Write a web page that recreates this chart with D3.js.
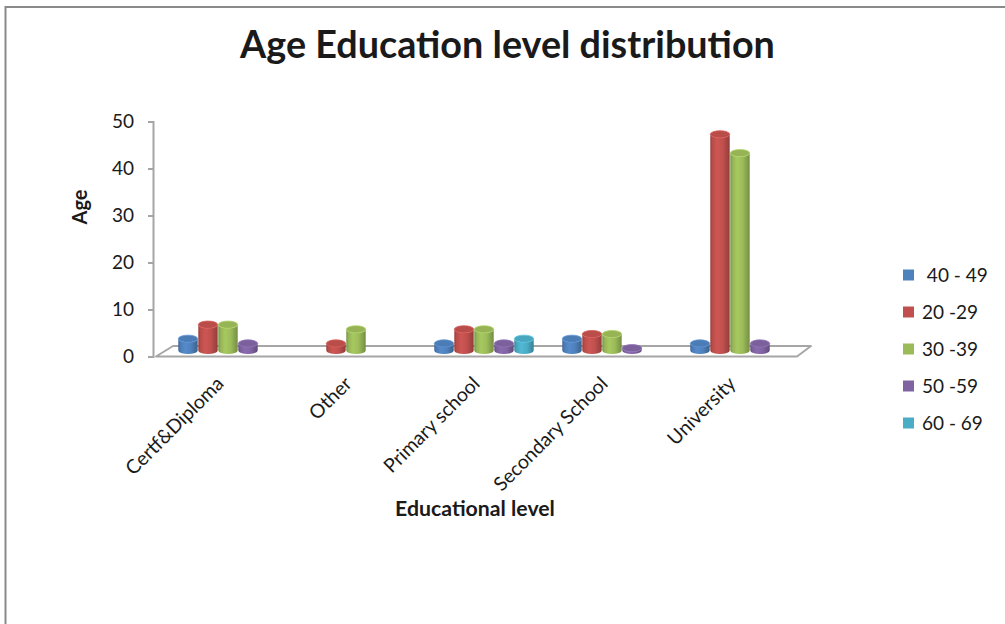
<!DOCTYPE html>
<html><head><meta charset="utf-8">
<script src="https://cdn.jsdelivr.net/npm/d3@7"></script>
<style>
html,body{margin:0;padding:0;background:#fff;}
svg{display:block;}
text{font-family:Lato,"Open Sans",sans-serif;fill:#1a1a1a;}
</style></head>
<body>
<svg id="chart" width="1005" height="624"></svg>
<script>
const categories = ["Certf&Diploma", "Other", "Primary school", "Secondary School", "University"];
const seriesNames = [" 40 - 49", "20 -29", "30 -39", "50 -59", "60 - 69"];
const seriesColors = ["#4F81BD", "#C0504D", "#9BBB59", "#8064A2", "#4BACC6"];
const s40_49 = [2.5, 0, 1.5, 2.5, 1.5];
const s20_29 = [5.5, 1.5, 4.5, 3.5, 46];
const s30_39 = [5.5, 4.5, 4.5, 3.5, 42];
const s50_59 = [1.5, 0, 1.5, 0.5, 1.5];
const s60_69 = [0, 0, 2.5, 0, 0];
const yTicks = [0, 10, 20, 30, 40, 50];
const title = "Age Education level distribution";
const xTitle = "Educational level";
const yTitle = "Age";

const seriesValues = [s40_49, s20_29, s30_39, s50_59, s60_69];

const svg = d3.select("#chart");

// border
svg.append("rect").attr("x", 5.5).attr("y", 7).attr("width", 1020).attr("height", 640)
  .attr("fill", "none").attr("stroke", "#8a8a8a").attr("stroke-width", 2);

// scales
const y = d3.scaleLinear().domain([0, 50]).range([356.5, 121.5]);
const x = d3.scaleBand().domain(categories).range([164, 804]).paddingInner(0).paddingOuter(0);
const xs = d3.scaleBand().domain(d3.range(seriesNames.length)).range([0, x.bandwidth()]).paddingInner(0).paddingOuter(0.7);

// gradients
const defs = svg.append("defs");
seriesColors.forEach((c, i) => {
  const g = defs.append("linearGradient").attr("id", "grad" + i).attr("x1", 0).attr("x2", 1).attr("y1", 0).attr("y2", 0);
  const col = d3.color(c);
  g.append("stop").attr("offset", "0%").attr("stop-color", col.darker(0.7));
  g.append("stop").attr("offset", "12%").attr("stop-color", col.darker(0.1));
  g.append("stop").attr("offset", "35%").attr("stop-color", col.brighter(0.2));
  g.append("stop").attr("offset", "65%").attr("stop-color", col);
  g.append("stop").attr("offset", "100%").attr("stop-color", col.darker(0.8));
});

// y axis
const axisG = svg.append("g").attr("transform", "translate(153,0)");
axisG.call(d3.axisLeft(y).tickValues(yTicks).tickSize(5).tickPadding(14));
axisG.select(".domain").attr("stroke", "#a6a6a6").attr("stroke-width", 2);
axisG.selectAll(".tick line").attr("stroke", "#a6a6a6").attr("stroke-width", 2);
axisG.selectAll(".tick text").style("font-family", "Lato").style("font-size", "19px").attr("fill", "#1a1a1a");

// floor
const floorFrontY = y(0), floorBackY = y(0) - 10.5;
const floorPts = [[156, floorFrontY], [797, floorFrontY], [811, floorBackY], [173, floorBackY]];
svg.append("path").attr("d", d3.line()(floorPts) + "Z")
  .attr("fill", "#fff").attr("stroke", "#a6a6a6").attr("stroke-width", 2).attr("stroke-linejoin", "round");

// bars (cylinders)
const baseY = y(0) - 6;
const ry = 3.6;
const barsG = svg.append("g");
categories.forEach((cat, ci) => {
  seriesValues.forEach((vals, si) => {
    const v = vals[ci];
    if (!(v > 0)) return;
    const x0 = x(cat) + xs(si) + 0.3;
    const w = xs.bandwidth() - 0.6;
    const rx = w / 2;
    const h = y(0) - y(v);
    const yTop = baseY - h;
    const p = `M${x0},${yTop} L${x0},${baseY} A${rx},${ry} 0 0 0 ${x0 + w},${baseY} L${x0 + w},${yTop} A${rx},${ry} 0 0 1 ${x0},${yTop} Z`;
    barsG.append("path").attr("d", p).attr("fill", `url(#grad${si})`);
    const col = d3.color(seriesColors[si]);
    barsG.append("ellipse").attr("cx", x0 + rx).attr("cy", yTop).attr("rx", rx).attr("ry", ry)
      .attr("fill", col.darker(0.1)).attr("stroke", col.brighter(0.35)).attr("stroke-width", 0.8);
  });
});

// category labels
svg.append("g").selectAll("text").data(categories).join("text")
  .attr("transform", d => `translate(${x(d) + x.bandwidth() / 2 - 13},${375}) rotate(-45)`)
  .attr("text-anchor", "end").attr("dy", "0.72em")
  .style("font-size", "19.5px").text(d => d);

// helper to fit text width
function fit(sel, target) {
  const wdt = sel.node().getComputedTextLength();
  const fs = parseFloat(sel.style("font-size"));
  sel.style("font-size", (fs * target / wdt) + "px");
}

// title
const t = svg.append("text").attr("x", 507.5).attr("y", 58).attr("text-anchor", "middle")
  .style("font-size", "32px").style("font-weight", "bold").attr("fill", "#000").text(title);
fit(t, 535);

// axis titles
const xt = svg.append("text").attr("x", 475).attr("y", 516).attr("text-anchor", "middle")
  .style("font-size", "17px").style("font-weight", "bold").attr("fill", "#000").text(xTitle);
fit(xt, 160);
svg.append("text").attr("transform", "translate(87,207) rotate(-90)").attr("text-anchor", "middle")
  .style("font-size", "20px").style("font-weight", "bold").attr("fill", "#000").text(yTitle);

// legend
const lg = svg.append("g").selectAll("g").data(seriesNames).join("g")
  .attr("transform", (d, i) => `translate(903,${275 + i * 37})`);
lg.append("rect").attr("x", 0).attr("y", -5.5).attr("width", 11).attr("height", 11)
  .attr("fill", (d, i) => seriesColors[i]);
lg.append("text").attr("x", 19).attr("y", 0).attr("dy", "0.35em").style("font-size", "19px")
  .style("white-space", "pre").attr("xml:space", "preserve").text(d => d);
</script>
</body></html>
